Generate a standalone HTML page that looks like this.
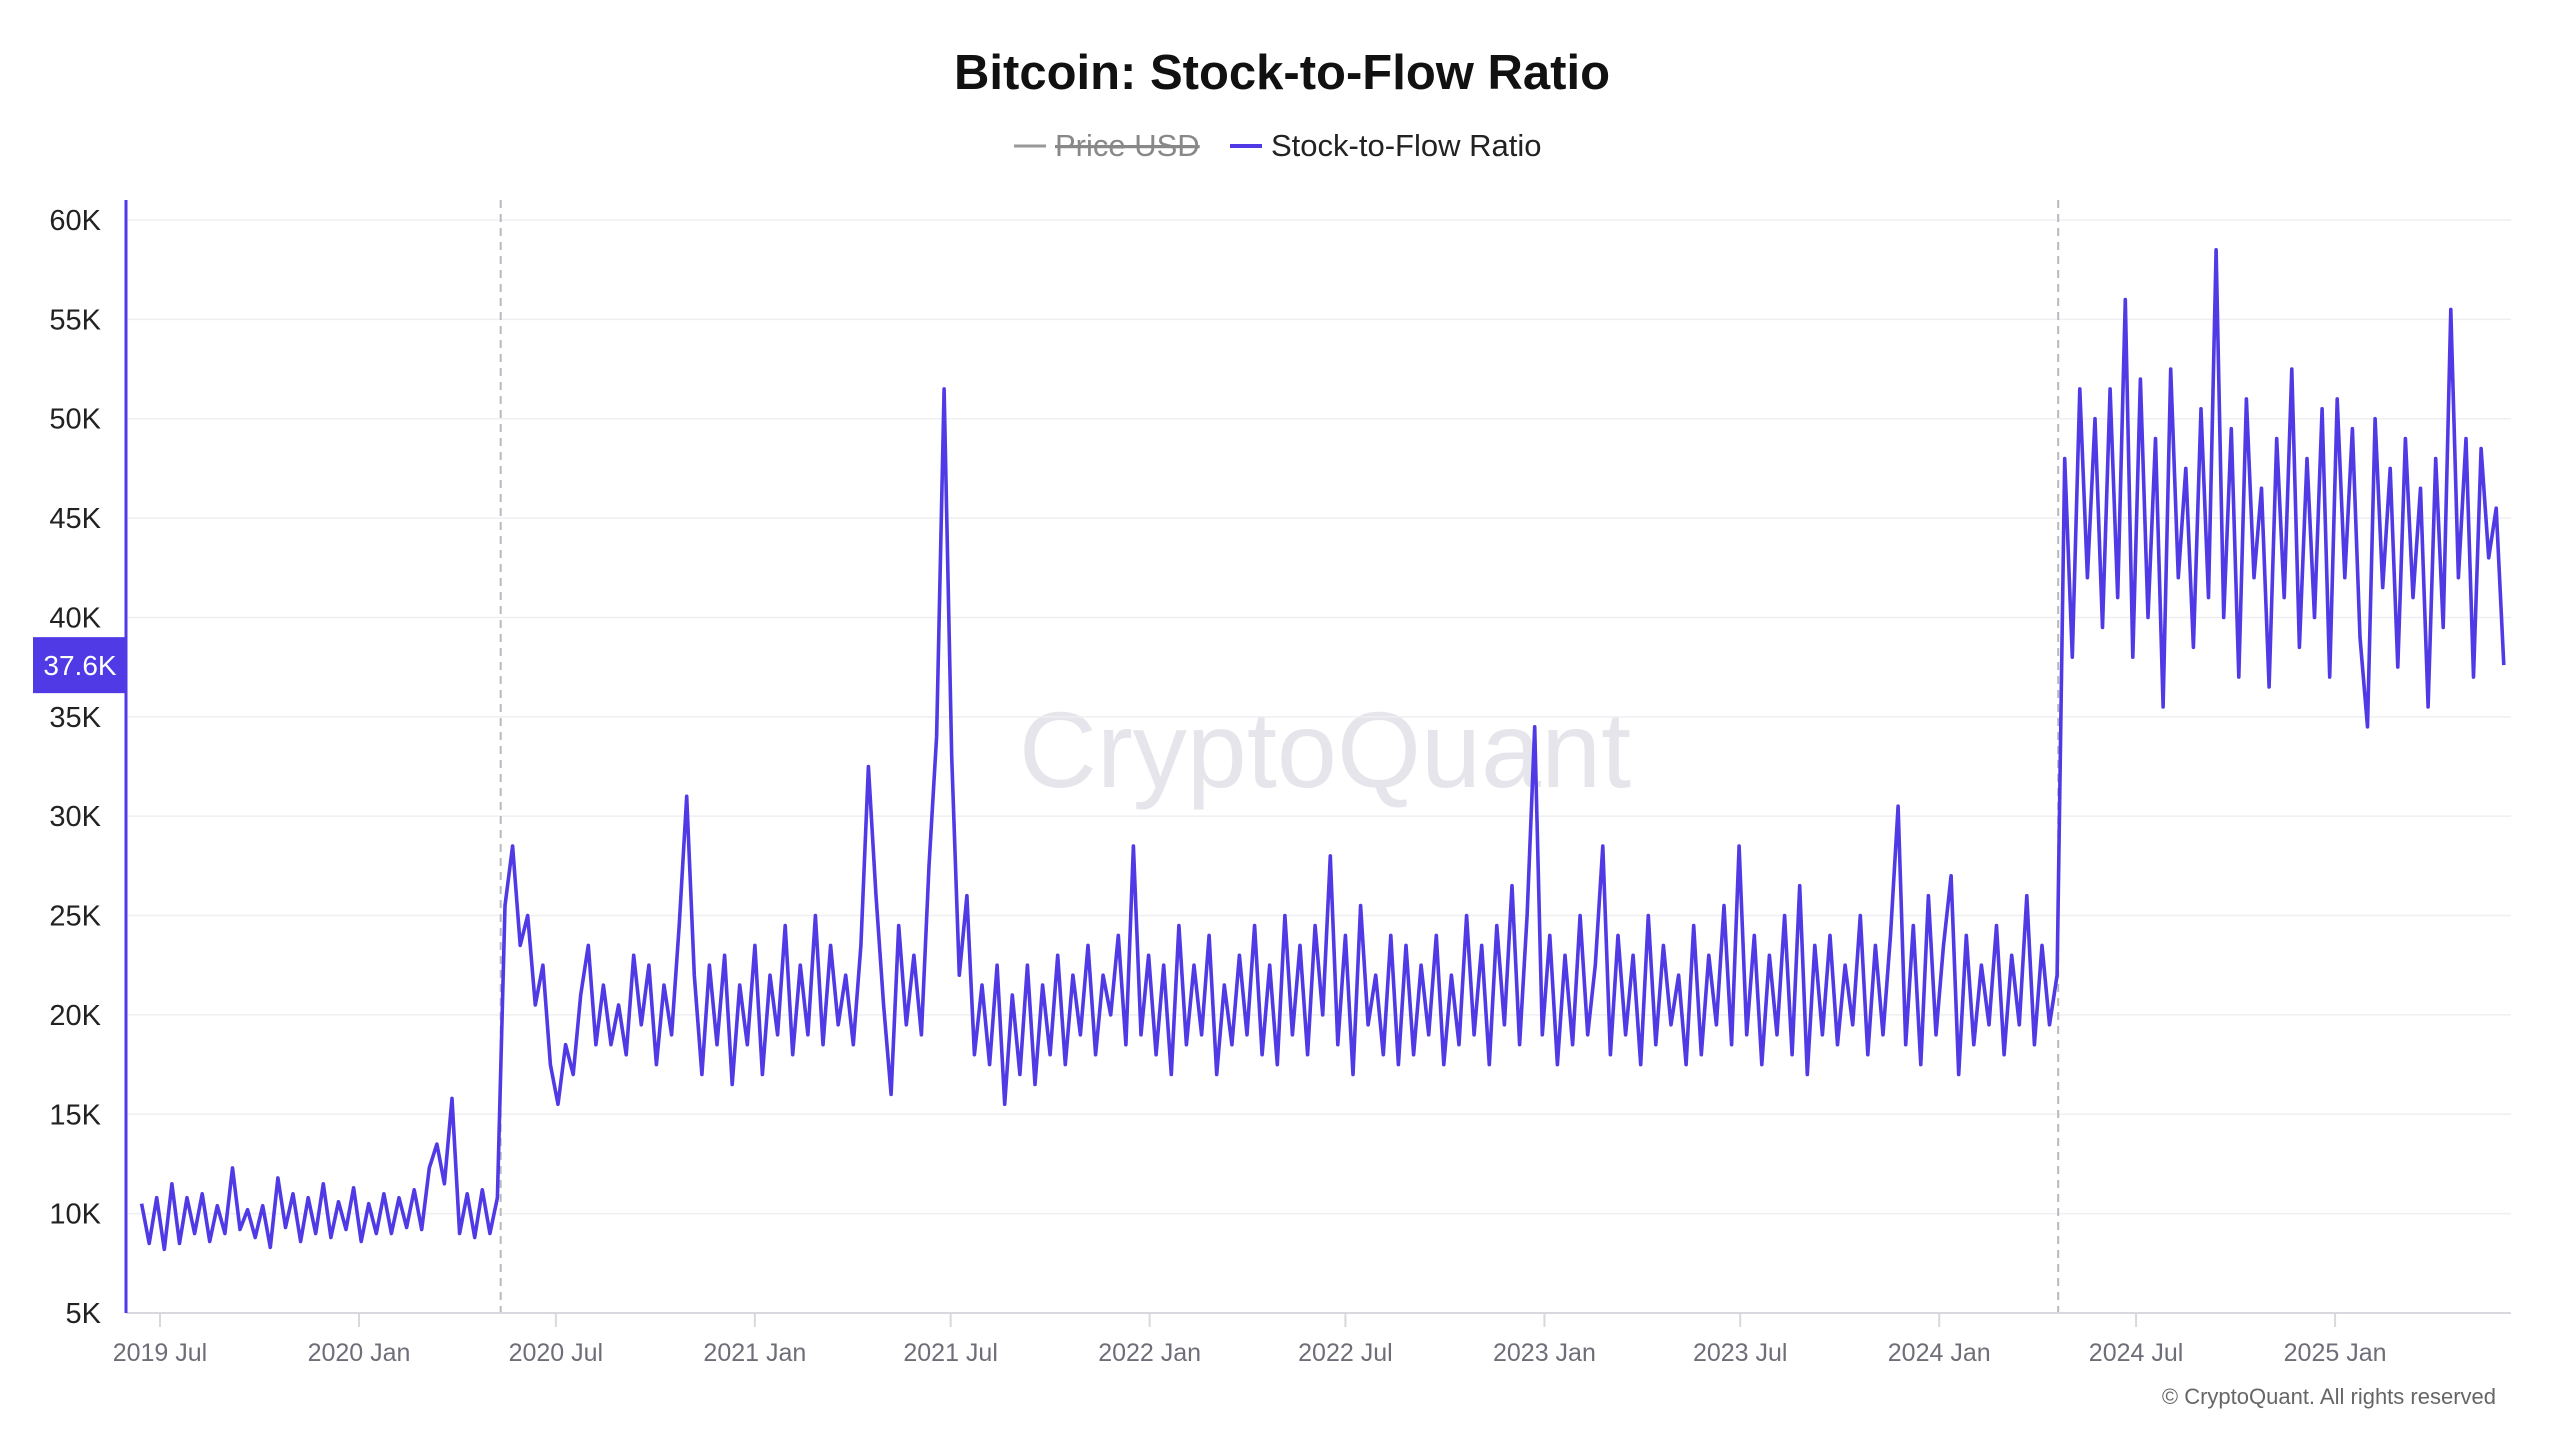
<!DOCTYPE html>
<html><head><meta charset="utf-8"><style>
html,body{margin:0;padding:0;background:#fff;}
body{width:2560px;height:1440px;overflow:hidden;font-family:"Liberation Sans",sans-serif;}
</style></head><body>
<svg id="chart" width="2560" height="1440" xmlns="http://www.w3.org/2000/svg">
<text x="1282" y="89" text-anchor="middle" font-size="49" font-weight="bold" fill="#111" font-family="Liberation Sans, sans-serif">Bitcoin: Stock-to-Flow Ratio</text>
<g>
<line x1="1014" y1="146" x2="1046" y2="146" stroke="#999" stroke-width="3"/>
<text x="1055" y="156" font-size="31" fill="#888" text-decoration="line-through">Price USD</text>
<line x1="1055" y1="146" x2="1193" y2="146" stroke="#888" stroke-width="2"/>
</g>
<g>
<line x1="1230" y1="146" x2="1262" y2="146" stroke="#4f3ae6" stroke-width="4"/>
<text x="1271" y="156" font-size="31" fill="#222">Stock-to-Flow Ratio</text>
</g>
<text x="1325" y="787" text-anchor="middle" font-size="108" fill="#e6e5ec" font-family="Liberation Sans, sans-serif">CryptoQuant</text>
<g id="grid"></g>
<g id="xaxis"></g>
<g id="yaxis"></g>
<g id="series"></g>
<text x="2496" y="1404" text-anchor="end" font-size="22" fill="#666">© CryptoQuant. All rights reserved</text>
</svg>
<script>
const startDate = [2019, 5, 14];
const stepDays = 7;
const yTicks = [5,10,15,20,25,30,35,40,45,50,55,60];
const xTickLabels = ["2019 Jul","2020 Jan","2020 Jul","2021 Jan","2021 Jul","2022 Jan","2022 Jul","2023 Jan","2023 Jul","2024 Jan","2024 Jul","2025 Jan"];
const xTickDates = [[2019,6,1],[2020,0,1],[2020,6,1],[2021,0,1],[2021,6,1],[2022,0,1],[2022,6,1],[2023,0,1],[2023,6,1],[2024,0,1],[2024,6,1],[2025,0,1]];
const halvingDates = [[2020,4,11],[2024,3,20]];
const lastValueLabel = "37.6K";
const s2fValues = [
10.5,8.5,10.8,8.2,11.5,8.5,10.8,9.0,11.0,8.6,10.4,9.0,12.3,9.2,10.2,8.8,10.4,8.3,11.8,9.3,11.0,8.6,10.8,9.0,11.5,8.8,10.6,9.2,11.3,8.6,10.5,9.0,11.0,9.0,10.8,9.3,11.2,9.2,12.3,13.5,11.5,15.8,9.0,11.0,8.8,11.2,9.0,10.8,
25.5,28.5,23.5,25.0,20.5,22.5,17.5,15.5,18.5,17.0,21.0,23.5,18.5,21.5,18.5,20.5,18.0,23.0,19.5,22.5,17.5,21.5,19.0,24.5,31.0,22.0,17.0,22.5,18.5,23.0,16.5,21.5,18.5,23.5,17.0,22.0,19.0,24.5,18.0,22.5,19.0,25.0,18.5,23.5,19.5,22.0,18.5,23.5,32.5,26.0,20.5,16.0,24.5,19.5,23.0,19.0,27.5,34.0,51.5,33.0,22.0,26.0,18.0,21.5,17.5,22.5,15.5,21.0,17.0,22.5,16.5,21.5,18.0,23.0,17.5,22.0,19.0,23.5,18.0,22.0,20.0,24.0,18.5,28.5,19.0,23.0,18.0,22.5,17.0,24.5,18.5,22.5,19.0,24.0,17.0,21.5,18.5,23.0,19.0,24.5,18.0,22.5,17.5,25.0,19.0,23.5,18.0,24.5,20.0,28.0,18.5,24.0,17.0,25.5,19.5,22.0,18.0,24.0,17.5,23.5,18.0,22.5,19.0,24.0,17.5,22.0,18.5,25.0,19.0,23.5,17.5,24.5,19.5,26.5,18.5,25.0,34.5,19.0,24.0,17.5,23.0,18.5,25.0,19.0,22.5,28.5,18.0,24.0,19.0,23.0,17.5,25.0,18.5,23.5,19.5,22.0,17.5,24.5,18.0,23.0,19.5,25.5,18.5,28.5,19.0,24.0,17.5,23.0,19.0,25.0,18.0,26.5,17.0,23.5,19.0,24.0,18.5,22.5,19.5,25.0,18.0,23.5,19.0,24.0,30.5,18.5,24.5,17.5,26.0,19.0,23.5,27.0,17.0,24.0,18.5,22.5,19.5,24.5,18.0,23.0,19.5,26.0,18.5,23.5,19.5,22.0,
48.0,38.0,51.5,42.0,50.0,39.5,51.5,41.0,56.0,38.0,52.0,40.0,49.0,35.5,52.5,42.0,47.5,38.5,50.5,41.0,58.5,40.0,49.5,37.0,51.0,42.0,46.5,36.5,49.0,41.0,52.5,38.5,48.0,40.0,50.5,37.0,51.0,42.0,49.5,39.0,34.5,50.0,41.5,47.5,37.5,49.0,41.0,46.5,35.5,48.0,39.5,55.5,42.0,49.0,37.0,48.5,43.0,45.5,37.6
];

const NS="http://www.w3.org/2000/svg";
const L=126,R=2511,T=200,B=1313;
const yMin=5,yMax=60, yTop=220;
function yScale(v){return B-(v-yMin)/(yMax-yMin)*(B-yTop);}
const d0=Date.UTC(startDate[0],startDate[1],startDate[2]);
function dayOf(d){return (Date.UTC(d[0],d[1],d[2])-d0)/86400000;}
const x0=141.6, slope=1.0816;
function xScale(day){return x0+day*slope;}
function mk(tag,attrs,parent){const e=document.createElementNS(NS,tag);for(const k in attrs)e.setAttribute(k,attrs[k]);parent.appendChild(e);return e;}

const grid=document.getElementById('grid'), yaxis=document.getElementById('yaxis'), xaxis=document.getElementById('xaxis'), series=document.getElementById('series');
yTicks.forEach(v=>{
  const y=yScale(v);
  const g=mk('line',{x1:L,x2:R,y1:y,y2:y,stroke:'#efeff2','stroke-width':1.5},grid);
  
  
  const t=mk('text',{x:101,y:y+10,'text-anchor':'end','font-size':29,fill:'#222'},yaxis);
  t.textContent=v+'K';
  
  
});
const xl=mk('line',{x1:L,x2:R,y1:B,y2:B,stroke:'#d8d8de','stroke-width':2},xaxis);


xTickDates.forEach((d,i)=>{
  const x=xScale(dayOf(d));
  const tk=mk('line',{x1:x,x2:x,y1:B,y2:B+14,stroke:'#d8d8de','stroke-width':2},xaxis);
  
  
  const t=mk('text',{x:x,y:1361,'text-anchor':'middle','font-size':25,fill:'#6e6e78'},xaxis);
  t.textContent=xTickLabels[i];
  
  
});
halvingDates.forEach(d=>{
  const x=xScale(dayOf(d));
  const h=mk('line',{x1:x,x2:x,y1:T,y2:B,stroke:'#b8b8c0','stroke-width':2,'stroke-dasharray':'8 6'},grid);
  
  
});
let dstr='';
s2fValues.forEach((v,i)=>{dstr+=(i?'L':'M')+xScale(i*stepDays).toFixed(1)+' '+yScale(v).toFixed(1);});
const p=mk('path',{d:dstr,fill:'none',stroke:'#4f3ae6','stroke-width':3.6,'stroke-linejoin':'round'},series);


const ya=mk('line',{x1:L,x2:L,y1:T,y2:B,stroke:'#4f3ae6','stroke-width':3},yaxis);


const last=s2fValues[s2fValues.length-1];
const ly=yScale(last);
const box=mk('rect',{x:33,y:ly-28,width:94,height:56,fill:'#4f3ae6'},yaxis);


const lt=mk('text',{x:80,y:ly+10,'text-anchor':'middle','font-size':28,fill:'#fff'},yaxis);
lt.textContent=lastValueLabel;


</script>
</body></html>
